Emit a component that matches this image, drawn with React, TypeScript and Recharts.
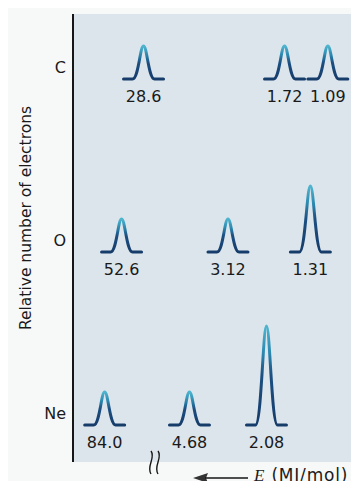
import { ScatterChart, Scatter, XAxis, YAxis, ZAxis, CartesianGrid } from "recharts";

// photoelectron spectra, one row per atom
const atoms = ["C", "O", "Ne"];
const energy1s = [28.6, 52.6, 84.0];
const energy2s = [1.72, 3.12, 4.68];
const energy2p = [1.09, 1.31, 2.08];
const electrons1s = [2, 2, 2];
const electrons2s = [2, 2, 2];
const electrons2p = [2, 4, 6];

type Peak = { atom: string; energy: number; electrons: number };

const coreData: Peak[] = atoms.map((atom, i) => ({
  atom,
  energy: energy1s[i],
  electrons: electrons1s[i],
}));

const valenceData: Peak[] = [
  ...atoms.map((atom, i) => ({ atom, energy: energy2s[i], electrons: electrons2s[i] })),
  ...atoms.map((atom, i) => ({ atom, energy: energy2p[i], electrons: electrons2p[i] })),
];

const INK = "#161616";
const PLOT_BG = "#dce5ec";

function PeakShape(props: any) {
  const { cx, cy, size, payload } = props;
  if (cx == null || cy == null) return null;
  const base = cy + 12;
  const top = base - size;
  const id = `pk-${payload.atom}-${String(payload.energy).replace(".", "_")}`;
  const d =
    `M${cx - 20},${base} L${cx - 11},${base} ` +
    `C${cx - 5},${base} ${cx - 3.5},${top} ${cx},${top} ` +
    `C${cx + 3.5},${top} ${cx + 5},${base} ${cx + 11},${base} L${cx + 20},${base}`;
  return (
    <g>
      <defs>
        <linearGradient id={id} x1="0" y1="0" x2="0" y2="1">
          <stop offset="0%" stopColor="#4fb5cf" />
          <stop offset="28%" stopColor="#2a86ae" />
          <stop offset="50%" stopColor="#1c4f82" />
          <stop offset="100%" stopColor="#163c6a" />
        </linearGradient>
      </defs>
      <path d={d} fill="none" stroke={`url(#${id})`} strokeWidth={3} strokeLinecap="round" strokeLinejoin="round" />
      <text x={cx} y={base + 23} textAnchor="middle" fontSize={16} fill="#1a1a1a">
        {payload.energy.toPrecision(3)}
      </text>
    </g>
  );
}

function ElectronsTitle(props: any) {
  const { x, y, height } = props.viewBox;
  const tx = x + 31;
  const ty = y + height / 2 - 20;
  return (
    <text transform={`translate(${tx},${ty}) rotate(-90)`} textAnchor="middle" fontSize={15.5} fill="#1a1a1a">
      Relative number of electrons
    </text>
  );
}

// axis break on the energy axis and the energy arrow title, drawn over the chart
function EnergyTitle() {
  return (
    <svg width={359} height={489} style={{ position: "absolute", left: 0, top: 0, pointerEvents: "none" }}>
      <path d="M151,451 C156,458 146,466 151,474" fill="none" stroke={INK} strokeWidth={1.4} />
      <path d="M158,451 C163,458 153,466 158,474" fill="none" stroke={INK} strokeWidth={1.4} />
      <polygon points="193,478 208,473 206,478 208,483" fill="#333" />
      <line x1={205} y1={478} x2={248} y2={478} stroke={INK} strokeWidth={1.5} />
      <text x={254} y={481} fontSize={17} letterSpacing={0.8} fill="#1a1a1a" fontFamily="'DejaVu Sans', sans-serif">
        <tspan fontFamily="'Liberation Serif', serif" fontStyle="italic">E</tspan> (MJ/mol)
      </text>
    </svg>
  );
}

export default function App() {
  return (
    <div
      style={{
        position: "relative",
        margin: -8,
        width: 359,
        height: 489,
        background: "#f7f8f8",
        fontFamily: "'DejaVu Sans', sans-serif",
      }}
    >
      <ScatterChart width={359} height={489} margin={{ top: 14, right: 0, bottom: 0, left: 0 }}>
        <CartesianGrid xAxisId="valence" horizontal={false} vertical={false} fill={PLOT_BG} />
        <XAxis
          xAxisId="core"
          type="number"
          dataKey="energy"
          scale="log"
          domain={[0.0725, 202.3]}
          allowDataOverflow
          reversed
          hide
        />
        <XAxis
          xAxisId="valence"
          type="number"
          dataKey="energy"
          scale="log"
          domain={[0.785, 15.96]}
          allowDataOverflow
          reversed
          height={27}
          tick={false}
          tickLine={false}
          axisLine={{ stroke: INK, strokeWidth: 2 }}
        />
        <YAxis
          type="category"
          dataKey="atom"
          scale="point"
          allowDuplicatedCategory={false}
          reversed
          width={73}
          padding={{ top: 53, bottom: 49 }}
          tickLine={false}
          tickSize={0}
          tickMargin={7}
          tick={{ fill: "#1a1a1a", fontSize: 16 }}
          axisLine={{ stroke: INK, strokeWidth: 2 }}
          label={ElectronsTitle}
        />
        <ZAxis type="number" dataKey="electrons" domain={[0, 6]} range={[0, 99]} />
        <Scatter name="1s" data={coreData} xAxisId="core" shape={PeakShape} isAnimationActive={false} />
        <Scatter name="2s, 2p" data={valenceData} xAxisId="valence" shape={PeakShape} isAnimationActive={false} />
      </ScatterChart>
      <EnergyTitle />
    </div>
  );
}
